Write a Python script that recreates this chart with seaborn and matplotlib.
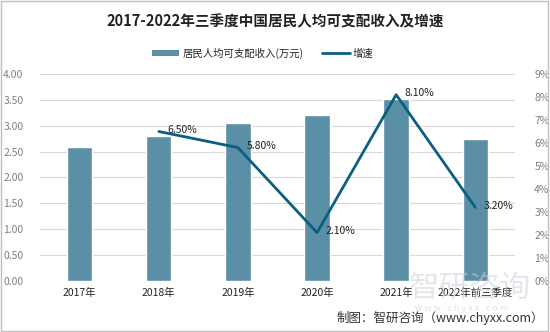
import matplotlib
matplotlib.use("Agg")
import matplotlib.pyplot as plt
import seaborn as sns
import pandas as pd
import numpy as np
from matplotlib.patches import Patch, Rectangle
from matplotlib.lines import Line2D
from matplotlib.ticker import FuncFormatter, MultipleLocator

categories = ["2017年", "2018年", "2019年", "2020年", "2021年", "2022年前三季度"]
income = [2.58, 2.80, 3.05, 3.21, 3.51, 2.74]
growth_years = ["2018年", "2019年", "2020年", "2021年", "2022年前三季度"]
growth = [6.5, 5.8, 2.1, 8.1, 3.2]
growth_labels = ["6.50%", "5.80%", "2.10%", "8.10%", "3.20%"]

title = "2017-2022年三季度中国居民人均可支配收入及增速"
bar_name = "居民人均可支配收入(万元)"
line_name = "增速"
source = "制图：智研咨询（www.chyxx.com）"

sns.set_theme(style="white")
plt.rcParams["font.family"] = ["Noto Sans CJK SC", "DejaVu Sans"]

bar_color = "#5b8fa6"
line_color = "#0b5f80"
tick_gray = "#7f7f7f"

fig = plt.figure(figsize=(5.5, 3.32), dpi=100)
ax = fig.add_axes([0.073, 0.154, 0.863, 0.623])

df = pd.DataFrame({"cat": categories, "income": income})
sns.barplot(data=df, x="cat", y="income", color=bar_color, saturation=1,
            width=0.32, ax=ax, order=categories)
ax.set_ylim(0, 4.0)
ax.set_xlim(-0.5, len(categories) - 0.5)
ax.yaxis.set_major_locator(MultipleLocator(0.5))
ax.yaxis.set_major_formatter(FuncFormatter(lambda v, p: f"{v:.2f}"))
ax.grid(axis="y", color="#d9d9d9", linewidth=0.8)
ax.set_axisbelow(True)
ax.set_xlabel("")
ax.set_ylabel("")
for s in ax.spines.values():
    s.set_visible(False)
ax.tick_params(axis="y", colors=tick_gray, labelsize=7.5, length=0, pad=12)
ax.tick_params(axis="x", colors="#222222", labelsize=7.5, length=0, pad=5)

ax2 = ax.twinx()
gx = [categories.index(c) for c in growth_years]
ldf = pd.DataFrame({"x": gx, "g": growth})
sns.lineplot(data=ldf, x="x", y="g", ax=ax2, color=line_color, linewidth=2.0,
             legend=False)
ax2.set_ylim(0, 9)
ax2.set_xlim(-0.5, len(categories) - 0.5)
ax2.yaxis.set_major_locator(MultipleLocator(1))
ax2.yaxis.set_major_formatter(FuncFormatter(lambda v, p: f"{v:.0f}%"))
ax2.tick_params(axis="y", colors=tick_gray, labelsize=7.5, length=0, pad=14)
ax2.set_xlabel("")
ax2.set_ylabel("")
for s in ax2.spines.values():
    s.set_visible(False)
ax2.grid(False)
for x, g, t in zip(gx, growth, growth_labels):
    ax2.annotate(t, (x, g), xytext=(6, 1), textcoords="offset points",
                 ha="left", va="center", fontsize=7.5, color="#222222")

fig.text(0.5, 0.935, title, ha="center", va="center", fontsize=10.5,
         fontweight="bold", color="#222222")

handles = [Patch(facecolor=bar_color, edgecolor="none"),
           Line2D([0], [0], color=line_color, linewidth=2.0)]
fig.legend(handles, [bar_name, line_name], loc="center",
           bbox_to_anchor=(0.478, 0.84), ncol=2, frameon=False, fontsize=7.5,
           handlelength=2.6, handleheight=0.6, columnspacing=1.8,
           handletextpad=0.3)

# watermark
fig.text(0.855, 0.13, "智研咨询", ha="center", va="center", fontsize=22,
         color="#c9cfd6", alpha=0.5, zorder=0)
fig.text(0.84, 0.072, "w w w . c h y x x . c o m", ha="center", va="center",
         fontsize=6.5, color="#c9cfd6", alpha=0.6, zorder=0)

fig.text(0.99, 0.042, source, ha="right", va="center", fontsize=9,
         color="#333333")

fig.patches.append(Rectangle((0.002, 0.003), 0.995, 0.993,
                             transform=fig.transFigure, fill=False,
                             edgecolor="#bfbfbf", linewidth=1.0))

fig.savefig("out.png", dpi=100)
